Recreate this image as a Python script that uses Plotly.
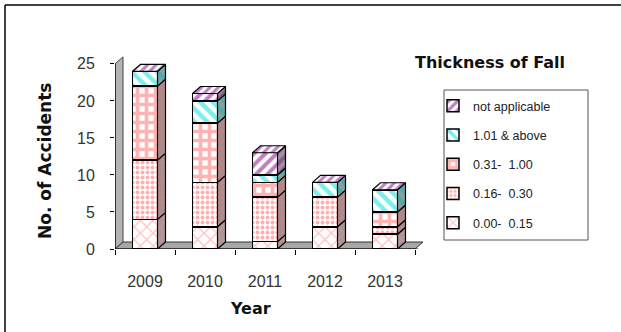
import plotly.graph_objects as go

# Accidents by year, split by thickness of fall (m)
years = ["2009", "2010", "2011", "2012", "2013"]
t_000_015 = [4, 3, 1, 3, 2]
t_016_030 = [8, 6, 6, 4, 1]
t_031_100 = [10, 8, 2, 0, 2]
t_101_up = [2, 3, 1, 2, 3]
not_applicable = [0, 1, 3, 0, 0]

series_names = ["0.00-  0.15", "0.16-  0.30", "0.31-  1.00", "1.01 & above", "not applicable"]
series_values = [t_000_015, t_016_030, t_031_100, t_101_up, not_applicable]

# front-face pattern, side-face pattern
styles = [
    dict(shape="x", fg="#ff8c8c", bg="#ffffff", side_fg="#d09a9a", side_bg="#aa9494", size=9, sol=0.3),
    dict(shape=".", fg="#ff6060", bg="#ffffff", side_fg="#d08888", side_bg="#a48c8c", size=5, sol=0.5),
    dict(shape="+", fg="#ff6a6a", bg="#ffffff", side_fg="#c88080", side_bg="#a48c8c", size=9, sol=0.65),
    dict(shape="\\", fg="#00dcdc", bg="#ffffff", side_fg="#18b0b0", side_bg="#88a0a0", size=9, sol=0.5),
    dict(shape="/", fg="#800080", bg="#ffffff", side_fg="#6a2a6a", side_bg="#a090a0", size=8, sol=0.5),
]

FONT = "Liberation Sans, Arial, sans-serif"
TITLE_FONT = "DejaVu Sans, Liberation Sans, sans-serif"

# pixel layout of the plotting area
W_PX, H_PX = 621, 332
L, R_EDGE, TOP, BOT = 115, 427, 55, 249
X_RANGE = [-0.5, 4.7]
Y_RANGE = [0, 26.2]

x_per_px = (X_RANGE[1] - X_RANGE[0]) / (R_EDGE - L)
y_per_px = (Y_RANGE[1] - Y_RANGE[0]) / (BOT - TOP)

BAR_W = 25 * x_per_px      # front face width
DX = 8 * x_per_px          # depth offset (right)
DY = 7 * y_per_px          # depth offset (up)


def px_to_paper(px, py):
    return (px - L) / (R_EDGE - L), (BOT - py) / (BOT - TOP)


xs = list(range(len(years)))
fig = go.Figure()

# front faces: stacked bars (legend lists the top series first)
n_series = len(series_names)
for i, (name, vals, st) in enumerate(zip(series_names, series_values, styles)):
    fig.add_trace(go.Bar(
        x=xs, y=vals, name=name, width=BAR_W,
        legendgroup=name, legendrank=n_series - i,
        marker=dict(
            color=st["bg"],
            line=dict(color="black", width=1.5),
            pattern=dict(shape=st["shape"], fgcolor=st["fg"], bgcolor=st["bg"],
                         size=st["size"], solidity=st["sol"], fillmode="overlay"),
        ),
        hoverinfo="skip",
    ))

# side faces of every stacked segment
base = [0] * len(years)
for name, vals, st in zip(series_names, series_values, styles):
    sx, sy = [], []
    for k, v in enumerate(vals):
        b, t = base[k], base[k] + v
        if v > 0:
            xr = k + BAR_W / 2
            sx += [xr, xr + DX, xr + DX, xr, xr, None]
            sy += [b, b + DY, t + DY, t, b, None]
        base[k] = t
    fig.add_trace(go.Scatter(
        x=sx, y=sy, mode="lines", fill="toself", showlegend=False,
        legendgroup=name,
        line=dict(color="black", width=1.2),
        fillcolor=st["side_bg"],
        fillpattern=dict(shape=st["shape"], fgcolor=st["side_fg"], bgcolor=st["side_bg"],
                         size=st["size"], solidity=st["sol"]),
        hoverinfo="skip",
    ))

# top faces (topmost series' cap)
totals = base
tx, ty = [], []
for k, T in enumerate(totals):
    xl, xr = k - BAR_W / 2, k + BAR_W / 2
    tx += [xl, xr, xr + DX, xl + DX, xl, None]
    ty += [T, T, T + DY, T + DY, T, None]
top_st = styles[-1]
fig.add_trace(go.Scatter(
    x=tx, y=ty, mode="lines", fill="toself", showlegend=False,
    line=dict(color="black", width=1.2),
    fillcolor="#ffffff",
    fillpattern=dict(shape="/", fgcolor=top_st["fg"], bgcolor="#ffffff", size=6, solidity=0.5),
    hoverinfo="skip",
))

# back wall and floor behind the bars
x0, x1 = -0.5, len(years) - 0.5
y_top = 25
shapes = [
    dict(type="path", xref="x", yref="y", layer="below",
         path=f"M {x0},0 L {x0},{y_top} L {x0 + DX},{y_top + DY} L {x0 + DX},{DY} Z",
         fillcolor="#b4b4b4", line=dict(color="#444", width=1)),
    dict(type="path", xref="x", yref="y", layer="below",
         path=f"M {x0},0 L {x1},0 L {x1 + DX},{DY} L {x0 + DX},{DY} Z",
         fillcolor="#a8a8a8", line=dict(color="#333", width=1)),
    # axis lines
    dict(type="line", xref="x", yref="y", x0=x0, x1=x0, y0=0, y1=y_top,
         line=dict(color="black", width=1.2)),
    dict(type="line", xref="x", yref="y", x0=x0, x1=x1 + 0.05, y0=0, y1=0,
         line=dict(color="black", width=1.2)),
]

# outer frame (top and left edges)
fx0, fy0 = px_to_paper(5, 5)
fx1, fy1 = px_to_paper(W_PX + 5, H_PX + 5)
shapes += [
    dict(type="line", xref="paper", yref="paper", x0=fx0, x1=fx1, y0=fy0, y1=fy0,
         line=dict(color="black", width=1.5)),
    dict(type="line", xref="paper", yref="paper", x0=fx0, x1=fx0, y0=fy0, y1=fy1,
         line=dict(color="black", width=1.5)),
]

# legend box
lx0, ly0 = px_to_paper(444, 90)
lx1, ly1 = px_to_paper(588, 240)
shapes.append(dict(type="rect", xref="paper", yref="paper", x0=lx0, x1=lx1, y0=ly1, y1=ly0,
                   line=dict(color="#555", width=1), fillcolor="rgba(0,0,0,0)"))

tx_title, ty_title = px_to_paper(490, 63)
yr_x, yr_y = px_to_paper(250, 308)
yt_x, yt_y = px_to_paper(45, 161)
leg_x, leg_y = px_to_paper(433, 91)

fig.update_layout(
    width=W_PX, height=H_PX,
    margin=dict(l=L, r=W_PX - R_EDGE, t=TOP, b=H_PX - BOT, pad=0),
    barmode="stack",
    paper_bgcolor="white", plot_bgcolor="white",
    font=dict(family=FONT, color="#222"),
    shapes=shapes,
    showlegend=True,
    legend=dict(
        x=leg_x, y=leg_y, xanchor="left", yanchor="top",
        bgcolor="rgba(0,0,0,0)", borderwidth=0,
        traceorder="grouped", tracegroupgap=10,
        font=dict(family=FONT, size=12.5, color="#222"),
        itemwidth=30,
    ),
    annotations=[
        dict(text="<b>Thickness of Fall</b>", x=tx_title, y=ty_title, xref="paper", yref="paper",
             xanchor="center", yanchor="middle", showarrow=False,
             font=dict(family=TITLE_FONT, size=16, color="#111")),
        dict(text="<b>Year</b>", x=yr_x, y=yr_y, xref="paper", yref="paper",
             xanchor="center", yanchor="middle", showarrow=False,
             font=dict(family=TITLE_FONT, size=16, color="#111")),
        dict(text="<b>No. of Accidents</b>", x=yt_x, y=yt_y, xref="paper", yref="paper",
             xanchor="center", yanchor="middle", showarrow=False, textangle=-90,
             font=dict(family=TITLE_FONT, size=17, color="#111")),
    ],
    xaxis=dict(
        range=X_RANGE, showgrid=False, zeroline=False, showline=False,
        tickmode="array", tickvals=xs, ticktext=years, ticks="",
        tickfont=dict(family=FONT, size=16, color="#333"),
        ticklabelstandoff=21,
        minor=dict(ticks="outside", tickmode="linear", tick0=-0.5, dtick=1,
                   ticklen=5, tickcolor="black", tickwidth=1, showgrid=False),
        fixedrange=True,
    ),
    yaxis=dict(
        range=Y_RANGE, showgrid=False, zeroline=False, showline=False,
        tickmode="array", tickvals=[0, 5, 10, 15, 20, 25], ticks="outside",
        ticklen=4, tickcolor="black",
        tickfont=dict(family=FONT, size=16, color="#333"),
        ticklabelstandoff=12,
        fixedrange=True,
    ),
)

fig.write_html("out.html")
